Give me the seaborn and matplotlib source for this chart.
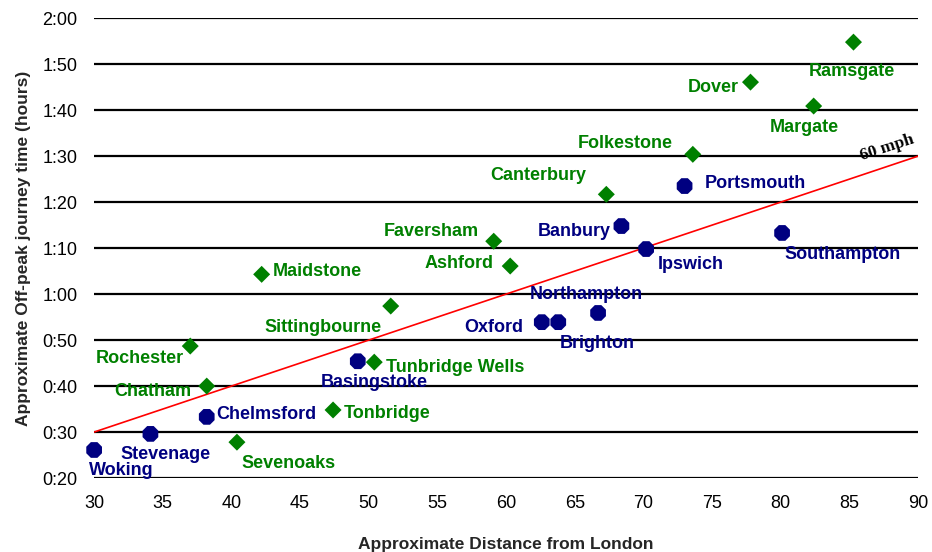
import pandas as pd
import seaborn as sns
import matplotlib.pyplot as plt

# =========================
# 1. Data
# =========================
kent_towns = ["Ramsgate", "Dover", "Margate", "Folkestone", "Canterbury",
              "Faversham", "Ashford", "Maidstone", "Sittingbourne", "Rochester",
              "Chatham", "Tunbridge Wells", "Tonbridge", "Sevenoaks"]
kent_miles = [85.3, 77.8, 82.4, 73.6, 67.3, 59.1, 60.3, 42.2, 51.6, 37.0,
              38.2, 50.4, 47.4, 40.4]
kent_minutes = [114.8, 106.1, 100.9, 90.4, 81.7, 71.5, 66.1, 64.3, 57.4, 48.7,
                40.0, 45.2, 34.8, 27.8]

other_towns = ["Woking", "Stevenage", "Chelmsford", "Basingstoke", "Oxford",
               "Brighton", "Northampton", "Banbury", "Ipswich", "Portsmouth",
               "Southampton"]
other_miles = [30.0, 34.1, 38.2, 49.2, 62.6, 63.8, 66.7, 68.4, 70.2, 73.0, 80.1]
other_minutes = [26.1, 29.6, 33.3, 45.4, 53.9, 53.9, 55.9, 74.8, 69.8, 83.5, 73.3]

mph_miles = [30, 90]
mph_minutes = [30, 90]

y_ticks = [20, 30, 40, 50, 60, 70, 80, 90, 100, 110, 120]
x_ticks = [30, 35, 40, 45, 50, 55, 60, 65, 70, 75, 80, 85, 90]

# label offsets in pixels (dx, dy) from each point
label_offsets = {
    "Ramsgate": (-2, -29), "Dover": (-37, -5), "Margate": (-9, -21),
    "Folkestone": (-68, 11), "Canterbury": (-68, 19), "Faversham": (-62, 10),
    "Ashford": (-51, 3), "Maidstone": (56, 3), "Sittingbourne": (-68, -21),
    "Rochester": (-50, -12), "Chatham": (-54, -5), "Tunbridge Wells": (81, -5),
    "Tonbridge": (54, -4), "Sevenoaks": (52, -21),
    "Woking": (27, -21), "Stevenage": (15, -21), "Chelmsford": (60, 2),
    "Basingstoke": (16, -21), "Oxford": (-48, -5), "Brighton": (39, -21),
    "Northampton": (-12, 18), "Banbury": (-47, -5), "Ipswich": (45, -15),
    "Portsmouth": (71, 3), "Southampton": (60, -22),
}

df = pd.DataFrame({
    "town": kent_towns + other_towns,
    "miles": kent_miles + other_miles,
    "minutes": kent_minutes + other_minutes,
    "group": ["Kent"] * len(kent_towns) + ["Other"] * len(other_towns),
})

GREEN = "#008000"
NAVY = "#000080"

# =========================
# 2. Plot
# =========================
sns.set_theme(style="white")
plt.rcParams["font.family"] = ["Liberation Sans", "DejaVu Sans"]

fig = plt.figure(figsize=(9.32, 5.52), dpi=100)
ax = fig.add_axes([0.101, 0.134, 0.884, 0.833])

for y in y_ticks:
    ax.axhline(y, color="black", lw=1.6, zorder=1)

sns.lineplot(x=mph_miles, y=mph_minutes, color="red", lw=1.2, ax=ax, zorder=2)

pts = sns.scatterplot(data=df, x="miles", y="minutes", hue="group", style="group",
                      size="group", sizes={"Kent": 75, "Other": 150},
                      palette={"Kent": GREEN, "Other": NAVY},
                      markers={"Kent": "D", "Other": "8"},
                      linewidth=0, legend=False, ax=ax, zorder=3)
for coll in ax.collections:
    coll.set_clip_on(False)

for _, row in df.iterrows():
    dx, dy = label_offsets[row["town"]]
    ax.annotate(row["town"], (row["miles"], row["minutes"]),
                xytext=(dx, dy), textcoords="offset pixels",
                ha="center", va="center", fontsize=13, fontweight="bold",
                color=GREEN if row["group"] == "Kent" else NAVY, zorder=4)

ax.annotate("60 mph", (mph_miles[1], mph_minutes[1]), xytext=(-31, 8),
            textcoords="offset pixels", ha="center", va="center",
            rotation=18, fontsize=12.5, fontweight="bold",
            family=["Liberation Serif", "DejaVu Serif"], color="black")

ax.set_xlim(30, 90)
ax.set_ylim(20, 120)
ax.set_xticks(x_ticks)
ax.set_yticks(y_ticks)
ax.set_yticklabels([f"{m // 60}:{m % 60:02d}" for m in y_ticks])
ax.tick_params(axis="both", length=0, labelsize=13, colors="black")
ax.tick_params(axis="x", pad=12)
ax.tick_params(axis="y", pad=12)

for spine in ax.spines.values():
    spine.set_visible(False)

ax.set_xlabel("Approximate Distance from London", fontsize=12.5,
              fontweight="bold", labelpad=18)
ax.set_ylabel("Approximate Off-peak journey time (hours)", fontsize=12.5,
              fontweight="bold", labelpad=8)

plt.savefig("out.png", dpi=100)
